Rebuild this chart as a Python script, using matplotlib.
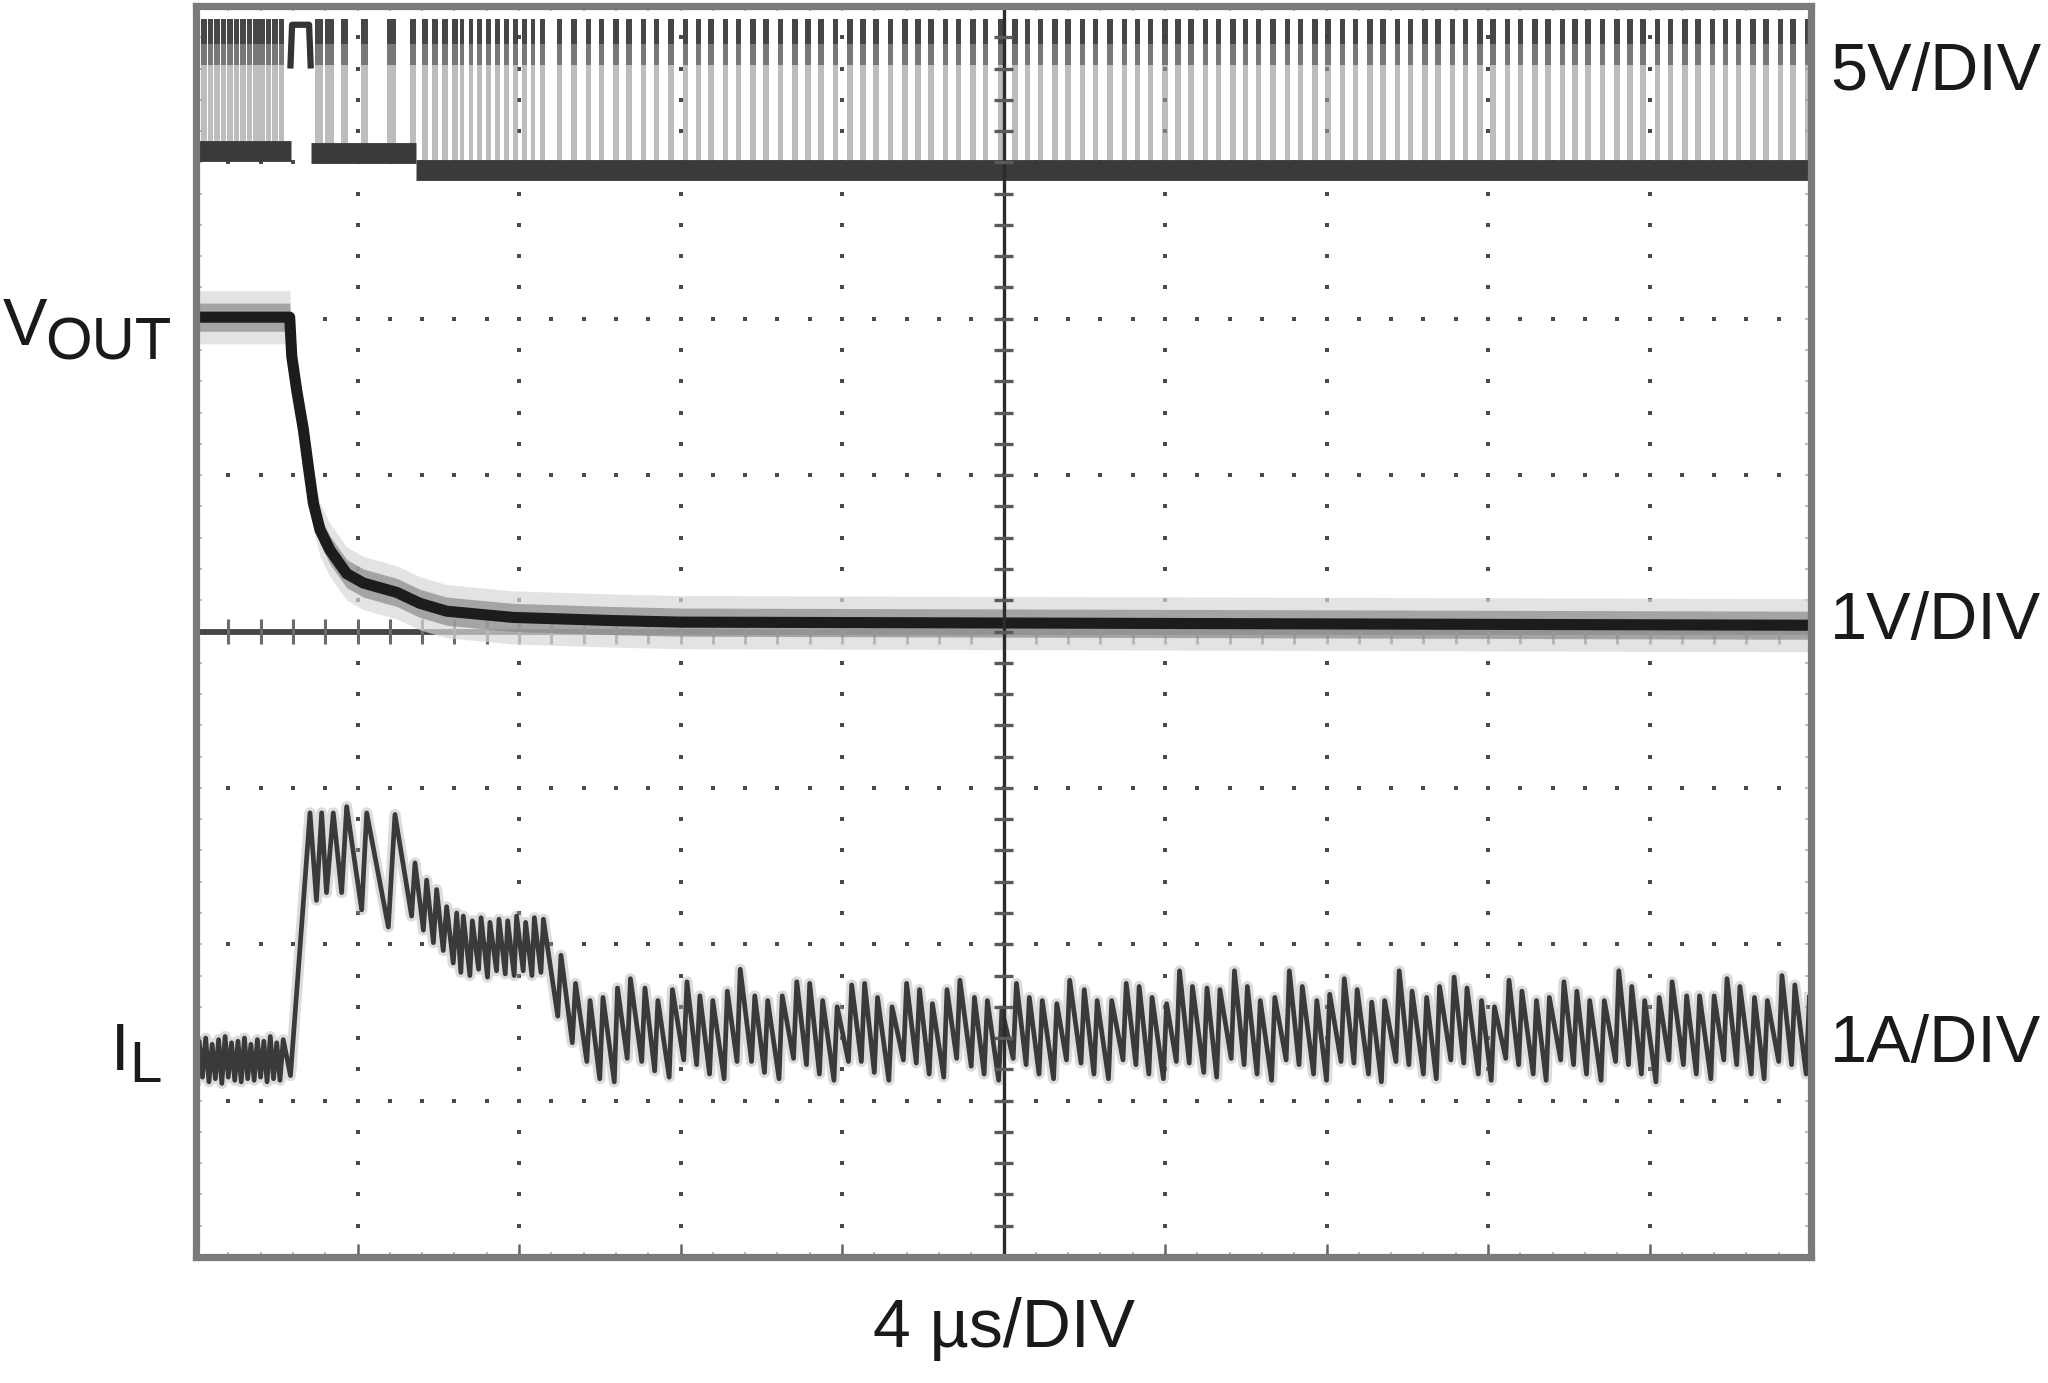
import matplotlib
matplotlib.use("Agg")
import matplotlib.pyplot as plt
import numpy as np

plt.rcParams['font.family'] = ['Liberation Sans', 'DejaVu Sans']

# ---------------- data (time in screen divisions, 4 us/div; amplitude in screen divisions) -------------
labels_right = ["5V/DIV", "1V/DIV", "1A/DIV"]
time_label = "4 \u00b5s/DIV"

# VOUT trace
vout_t = [0.00, 0.58, 0.593, 0.624, 0.665, 0.696, 0.727, 0.768, 0.83, 0.933, 1.036, 1.243,
          1.387, 1.552, 1.963, 2.58, 3.0, 10.0]
vout_v = [6.01, 6.01, 5.76, 5.54, 5.29, 5.05, 4.82, 4.65, 4.52, 4.37, 4.31, 4.25,
          4.18, 4.13, 4.09, 4.07, 4.06, 4.04]

# Inductor current: teeth (trough -> peak), grouped by phase
pre_trough_t = [0.00, 0.04, 0.08, 0.12, 0.16, 0.20, 0.24, 0.28, 0.32, 0.36, 0.40, 0.44, 0.48, 0.52]
pre_trough_v = [1.13, 1.15, 1.12, 1.14, 1.11, 1.15, 1.13, 1.12, 1.14, 1.13, 1.15, 1.12, 1.14, 1.13]
pre_peak_t = [0.02, 0.06, 0.10, 0.14, 0.18, 0.22, 0.26, 0.30, 0.34, 0.38, 0.42, 0.46, 0.50, 0.54]
pre_peak_v = [1.38, 1.40, 1.36, 1.39, 1.41, 1.37, 1.38, 1.40, 1.36, 1.39, 1.38, 1.41, 1.37, 1.39]

ramp_trough_t = [0.585]
ramp_trough_v = [1.16]
ramp_peak_t = [0.706]
ramp_peak_v = [2.84]

cl_trough_t = [0.746, 0.808, 0.902, 1.026, 1.191]
cl_trough_v = [2.28, 2.33, 2.33, 2.22, 2.11]
cl_peak_t = [0.778, 0.850, 0.933, 1.057, 1.232]
cl_peak_v = [2.84, 2.84, 2.88, 2.84, 2.83]

desc_trough_t = [1.335, 1.408, 1.470, 1.531, 1.593]
desc_trough_v = [2.18, 2.09, 2.01, 1.96, 1.88]
desc_peak_t = [1.356, 1.428, 1.490, 1.552, 1.614]
desc_peak_v = [2.52, 2.41, 2.35, 2.24, 2.20]

plat_trough_t = [1.640, 1.696, 1.750, 1.805, 1.861, 1.915, 1.970, 2.026, 2.080, 2.136]
plat_trough_v = [1.82, 1.80, 1.84, 1.79, 1.83, 1.81, 1.80, 1.83, 1.80, 1.82]
plat_peak_t = [1.655, 1.711, 1.765, 1.820, 1.876, 1.930, 1.985, 2.041, 2.095, 2.151]
plat_peak_v = [2.18, 2.15, 2.17, 2.14, 2.16, 2.15, 2.18, 2.14, 2.17, 2.16]

ss_rise = 0.02
ss_peak_t = [2.26, 2.35, 2.44, 2.52, 2.61, 2.69, 2.78, 2.86, 2.95, 3.04,
             3.12, 3.20, 3.29, 3.37, 3.46, 3.54, 3.63, 3.72, 3.80, 3.88,
             3.97, 4.06, 4.14, 4.22, 4.31, 4.40, 4.48, 4.56, 4.65, 4.73,
             4.82, 4.90, 4.99, 5.08, 5.16, 5.24, 5.33, 5.41, 5.50, 5.58,
             5.67, 5.76, 5.84, 5.92, 6.01,
             6.09, 6.17, 6.26, 6.34, 6.43, 6.51, 6.59, 6.68, 6.77, 6.85,
             6.94, 7.02, 7.11, 7.19, 7.28, 7.36, 7.45, 7.53, 7.62, 7.70,
             7.79, 7.87, 7.96, 8.04, 8.13, 8.21, 8.30, 8.38, 8.47, 8.55,
             8.63, 8.72, 8.81, 8.89, 8.97, 9.06, 9.14, 9.23, 9.31, 9.40,
             9.48, 9.56, 9.65, 9.73, 9.82, 9.90, 9.99]
ss_peak_v = [1.93, 1.75, 1.64, 1.66, 1.72, 1.78, 1.72, 1.64, 1.71, 1.76,
             1.67, 1.64, 1.70, 1.84, 1.67, 1.64, 1.67, 1.76, 1.75, 1.64,
             1.60, 1.74, 1.75, 1.66, 1.60, 1.75, 1.71, 1.62, 1.71, 1.77,
             1.66, 1.64, 1.58, 1.75, 1.66, 1.64, 1.62, 1.77, 1.71, 1.64,
             1.64, 1.75, 1.73, 1.66, 1.62,
             1.83, 1.73, 1.72, 1.71, 1.83, 1.73, 1.64, 1.66, 1.83, 1.73,
             1.64, 1.68, 1.78, 1.71, 1.63, 1.64, 1.83, 1.70, 1.66, 1.73,
             1.79, 1.72, 1.64, 1.60, 1.77, 1.70, 1.64, 1.66, 1.76, 1.70,
             1.64, 1.64, 1.83, 1.73, 1.64, 1.66, 1.76, 1.67, 1.67, 1.67,
             1.78, 1.73, 1.66, 1.64, 1.80, 1.74, 1.66]
ss_trough_v = [1.54, 1.37, 1.25, 1.14, 1.12, 1.27, 1.25, 1.19, 1.15, 1.26,
               1.23, 1.17, 1.14, 1.25, 1.25, 1.18, 1.14, 1.27, 1.23, 1.17,
               1.13, 1.25, 1.25, 1.18, 1.13, 1.26, 1.24, 1.17, 1.15, 1.27,
               1.22, 1.17, 1.13, 1.27, 1.23, 1.17, 1.14, 1.26, 1.24, 1.17,
               1.14, 1.26, 1.23, 1.17, 1.14,
               1.25, 1.24, 1.18, 1.15, 1.27, 1.23, 1.17, 1.13, 1.26, 1.23,
               1.17, 1.13, 1.25, 1.24, 1.17, 1.12, 1.25, 1.23, 1.17, 1.14,
               1.26, 1.24, 1.17, 1.13, 1.27, 1.23, 1.17, 1.13, 1.26, 1.23,
               1.17, 1.13, 1.25, 1.23, 1.17, 1.12, 1.26, 1.23, 1.17, 1.14,
               1.26, 1.23, 1.17, 1.14, 1.25, 1.23, 1.17]

# Switch node levels
sw_high = 7.88
sw_low_start = [0.00, 0.71, 1.36]
sw_low_end = [0.59, 1.36, 10.0]
sw_low_v = [7.07, 7.06, 6.95]
sw_cont_high_t = [0.585, 0.595, 0.700, 0.710]
sw_cont_high_v = [7.62, 7.88, 7.88, 7.62]

# ---------------- figure -------------
W, H = 2048, 1383
fig = plt.figure(figsize=(W / 100, H / 100), dpi=100)
fig.patch.set_facecolor('white')
L, R, T, B = 196, 1811, 6, 1257
ax = fig.add_axes([L / W, (H - B) / H, (R - L) / W, (B - T) / H])
ax.set_xlim(0, 10)
ax.set_ylim(0, 8)
ax.set_xticks([])
ax.set_yticks([])
for s in ax.spines.values():
    s.set_color('#7a7a7a')
    s.set_linewidth(5.2)
    s.set_zorder(20)

# graticule
xs = np.round(np.arange(0.2, 10.0, 0.2), 3)
ys = np.round(np.arange(0.2, 8.0, 0.2), 3)
for gx in [1, 2, 3, 4, 6, 7, 8, 9]:
    ax.plot([gx] * len(ys), ys, ls='none', marker='s', ms=2.4, mew=0, color='#4a4a4a', zorder=1)
for gy in [1, 2, 3, 5, 6, 7]:
    ax.plot(xs, [gy] * len(xs), ls='none', marker='s', ms=2.4, mew=0, color='#4a4a4a', zorder=1)
# border ticks
ax.vlines(xs, 0, 0.035, colors='#bdbdbd', lw=1.4, zorder=1)
ax.vlines(xs, 8 - 0.035, 8, colors='#bdbdbd', lw=1.4, zorder=1)
ax.hlines(ys, 0, 0.035, colors='#bdbdbd', lw=1.4, zorder=1)
ax.hlines(ys, 10 - 0.035, 10, colors='#bdbdbd', lw=1.4, zorder=1)
ax.vlines([1, 2, 3, 4, 6, 7, 8, 9], 0, 0.085, colors='#666666', lw=1.8, zorder=1)
# center horizontal axis
ax.axhline(4, color='#454545', lw=4.2, zorder=2)
ax.vlines(xs, 4 - 0.077, 4 + 0.077, colors='#6a6a6a', lw=2.2, zorder=2)

# ---------------- switch node -------------
trough_t = pre_trough_t + ramp_trough_t + cl_trough_t + desc_trough_t + plat_trough_t + \
    [p - ss_rise for p in ss_peak_t]
trough_v = pre_trough_v + ramp_trough_v + cl_trough_v + desc_trough_v + plat_trough_v + ss_trough_v
peak_t = pre_peak_t + ramp_peak_t + cl_peak_t + desc_peak_t + plat_peak_t + ss_peak_t
peak_v = pre_peak_v + ramp_peak_v + cl_peak_v + desc_peak_v + plat_peak_v + ss_peak_v


def low_level(t):
    for a, b, v in zip(sw_low_start, sw_low_end, sw_low_v):
        if a <= t < b:
            return v
    return sw_low_v[-1]


bx, bw, bb = [], [], []
for a, p in zip(trough_t, peak_t):
    if a in ramp_trough_t:
        continue
    bx.append(a - 0.007)
    bw.append(p - a + 0.014)
    bb.append(low_level(a))
bb = np.array(bb)
cap_lo = 7.62
ax.bar(bx, cap_lo - bb, width=bw, bottom=bb, align='edge', color='#9a9a9a', alpha=0.65, lw=0, zorder=3)
ax.bar(bx, sw_high + 0.04 - cap_lo, width=bw, bottom=cap_lo, align='edge', color='#555555',
       alpha=0.8, lw=0, zorder=3)
ax.bar(bx, 0.16, width=bw, bottom=sw_high - 0.12, align='edge', color='#3a3a3a',
       alpha=0.8, lw=0, zorder=3)
for a, b, v in zip(sw_low_start, sw_low_end, sw_low_v):
    ax.plot([a, b], [v, v], color='#3a3a3a', lw=15, solid_capstyle='butt', zorder=4)
ax.plot(sw_cont_high_t, sw_cont_high_v, color='#333333', lw=4.5, zorder=4)

# ---------------- VOUT -------------
vt = np.array(vout_t)
vv = np.array(vout_v)
ax.fill_between(vt, vv - 0.17, vv + 0.17, color='#d8d8d8', alpha=0.7, lw=0, zorder=3)
ax.fill_between(vt, vv - 0.09, vv + 0.09, color='#8a8a8a', alpha=0.7, lw=0, zorder=3)
ax.plot(vt, vv, color='#1c1c1c', lw=8, solid_joinstyle='round', zorder=4)

# ---------------- inductor current -------------
il_t, il_v = [], []
for a, av, p, pv in zip(trough_t, trough_v, peak_t, peak_v):
    il_t += [a, p]
    il_v += [av, pv]
ax.plot(il_t, il_v, color='#a8a8a8', lw=8, alpha=0.4, zorder=3)
ax.plot(il_t, il_v, color='#3a3a3a', lw=3.4, zorder=4)

# center vertical axis on top
ax.axvline(5, color='#2b2b2b', lw=2.4, zorder=6)
ax.hlines(ys, 5 - 0.056, 5 + 0.056, colors='#5a5a5a', lw=2.4, zorder=6)

# ---------------- text -------------
def ftext(x, y, s, size, ha='left'):
    fig.text(x / W, 1 - y / H, s, fontsize=size, ha=ha, va='baseline', color='#1a1a1a')


ftext(1830, 90, labels_right[0], 48)
ftext(1830, 639, labels_right[1], 48)
ftext(1830, 1062, labels_right[2], 48)
ftext(3, 345, 'V', 48)
ftext(45, 360, 'OUT', 43)
ftext(111, 1070, 'I', 48)
ftext(129, 1082, 'L', 42)
ftext(1004, 1347, time_label, 49, ha='center')

fig.savefig('out.png', dpi=100)
